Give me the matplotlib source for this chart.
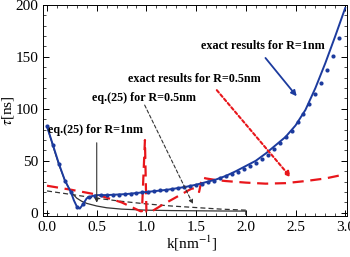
import numpy as np
import matplotlib
matplotlib.use("Agg")
import matplotlib.pyplot as plt
from matplotlib.ticker import MultipleLocator

plt.rcParams['font.family'] = ['Liberation Serif', 'DejaVu Serif']
plt.rcParams['mathtext.fontset'] = 'stix'

# blue solid line
k_blue = [0, 0.06, 0.12, 0.18, 0.24, 0.27, 0.30, 0.33, 0.36, 0.40, 0.45, 0.5, 0.6, 0.7, 0.8,
          0.9, 1.0, 1.1, 1.2, 1.3, 1.4, 1.5, 1.6, 1.7, 1.8, 1.9, 2.0, 2.1, 2.2, 2.3,
          2.4, 2.5, 2.6, 2.7, 2.8, 2.9, 3.0]
tau_blue = [83, 65, 47, 31, 20, 12, 6, 4, 8, 14, 16, 17, 17, 17.5, 18,
            19, 20, 21, 22, 23.5, 25, 27, 29.5, 32, 35.5, 40, 45, 50, 57, 65,
            73, 84, 99, 120, 144, 170, 197]

# blue dots (exact results, R=1nm)
k_dots = np.round(np.arange(0, 2.95, 0.06), 2)
tau_dots = [83, 65, 47, 31, 20, 6, 8, 15, 16.5, 17, 17, 17, 17.5, 18, 18.5, 19, 19.5, 20,
            21, 21.5, 22, 23, 24, 25, 26, 27, 28, 29.5, 31, 33, 35, 37, 39, 42, 45,
            48, 52, 56, 61, 67, 73, 79, 87, 95, 105, 114, 125, 137, 151, 168]

# black solid: eq.(25) R=1nm
k_eq1 = [0, 0.06, 0.12, 0.18, 0.24, 0.3, 0.35, 0.4, 0.5, 0.6, 0.75, 1.0, 1.25, 1.5, 1.75, 2.0, 2.0]
tau_eq1 = [83, 64, 46, 31, 20, 14, 11, 9, 6.5, 4.8, 3.5, 2.5, 2.1, 1.9, 1.7, 1.6, -1.5]

# black dashed: eq.(25) R=0.5nm
k_eq05 = [0, 0.25, 0.5, 0.75, 1.0, 1.25, 1.5, 1.75, 2.0]
tau_eq05 = [21, 17.5, 14, 11, 8.5, 6.5, 5, 3.5, 2.5]

# red dashed: exact results R=0.5nm
k_red = [0, 0.25, 0.5, 0.75, 0.94, 0.955, 0.985, 1.0, 1.04, 1.15, 1.3, 1.45, 1.5, 1.53,
         1.56, 1.6, 1.7, 1.8, 2.0, 2.2, 2.4, 2.6, 2.8, 3.0]
tau_red = [26, 22, 17.5, 10, 1.5, 1.5, 70, 1, 0.5, 7, 15, 23, 24, 20,
           34, 33, 31.5, 30.5, 29, 28, 28.5, 30.5, 33, 37]

blue = '#1c3b9e'
red = '#e8161b'

fig = plt.figure(figsize=(3.5, 2.57), dpi=100)
ax = fig.add_axes([0.123, 0.16, 0.869, 0.821])

ax.plot(k_eq1, tau_eq1, color='#333333', lw=0.9)
ax.plot(k_eq05, tau_eq05, color='#333333', lw=0.9, ls=(0, (4, 2.5)))
ax.plot(k_red, tau_red, color=red, lw=1.6, ls=(0, (5, 3)))
ax.plot(k_blue, tau_blue, color=blue, lw=1.4)
ax.plot(k_dots, tau_dots, 'o', color=blue, ms=3, mec='none')

tf = dict(fontsize=8.7, fontweight='bold', ha='center', va='center')
ax.text(2.17, 160, 'exact results for R=1nm', **tf)
ax.text(1.48, 129, 'exact results for R=0.5nm', **tf)
ax.text(0.98, 110, 'eq.(25) for R=0.5nm', **tf)
ax.text(0.49, 80, 'eq.(25) for R=1nm', **tf)

ax.annotate('', xy=(2.53, 110), xytext=(2.18, 151),
            arrowprops=dict(arrowstyle='-|>', color=blue, lw=1.3, mutation_scale=8))
ax.annotate('', xy=(2.47, 32), xytext=(1.69, 120),
            arrowprops=dict(arrowstyle='-|>', color=red, lw=1.5, ls=(0, (1.5, 1.2)), mutation_scale=8))
ax.annotate('', xy=(1.48, 6), xytext=(0.97, 106),
            arrowprops=dict(arrowstyle='-|>', color='#333333', lw=0.8, ls=(0, (3, 2)), mutation_scale=6))
ax.annotate('', xy=(0.5, 7), xytext=(0.5, 70),
            arrowprops=dict(arrowstyle='-|>', color='#333333', lw=0.8, mutation_scale=6))

ax.set_xlim(-0.04, 3.02)
ax.set_ylim(-3, 200)
ax.xaxis.set_major_locator(MultipleLocator(0.5))
ax.xaxis.set_minor_locator(MultipleLocator(0.1))
ax.yaxis.set_major_locator(MultipleLocator(50))
ax.yaxis.set_minor_locator(MultipleLocator(10))
ax.tick_params(which='both', direction='in', top=True, right=True, labelsize=11)
ax.tick_params(which='major', length=4, width=0.7)
ax.tick_params(which='minor', length=2, width=0.5)
for s in ax.spines.values():
    s.set_linewidth(0.7)
ax.set_xlabel('k[nm$^{-1}$]', fontsize=11)
ax.set_ylabel(r'$\tau$[ns]', fontsize=11)
ax.xaxis.set_label_coords(0.49, -0.085)
ax.yaxis.set_label_coords(-0.088, 0.5)

fig.savefig('out.png', dpi=100)
